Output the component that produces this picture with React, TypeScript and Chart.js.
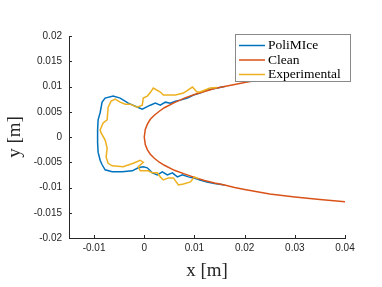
import React, { useEffect, useRef } from 'react';
import { Chart, registerables } from 'chart.js';

Chart.register(...registerables);

// ---- Data ----
const seriesNames = ['PoliMIce', 'Clean', 'Experimental'];
const seriesColors = ['#0072BD', '#D95319', '#EDB120'];

const xTicks = [-0.01, 0, 0.01, 0.02, 0.03, 0.04];
const yTicks = [-0.02, -0.015, -0.01, -0.005, 0, 0.005, 0.01, 0.015, 0.02];

const polimiceX = [0.016, 0.014, 0.0125, 0.0111, 0.0098, 0.0086, 0.0072, 0.0062, 0.0052, 0.0042, 0.0032, 0.0022, 0.0012, 0.0004, -0.0004, -0.0018, -0.0032, -0.0048, -0.0062, -0.0078, -0.0084, -0.0088, -0.0092, -0.0093, -0.0093, -0.0092, -0.0088, -0.0084, -0.0078, -0.0064, -0.0044, -0.0024, -0.0012, -0.0002, 0.0006, 0.0016, 0.0026, 0.0036, 0.0046, 0.0056, 0.0066, 0.0076, 0.0088, 0.0098, 0.0111, 0.0125, 0.014, 0.016];
const polimiceY = [0.0100, 0.0096, 0.0093, 0.0087, 0.0083, 0.0077, 0.0073, 0.0071, 0.0067, 0.0069, 0.0063, 0.0067, 0.0063, 0.0059, 0.0055, 0.0061, 0.0067, 0.0077, 0.0081, 0.0077, 0.0069, 0.0048, 0.0034, 0.0014, -0.0012, -0.0030, -0.0046, -0.0055, -0.0065, -0.0069, -0.0069, -0.0067, -0.0061, -0.0059, -0.0061, -0.0071, -0.0075, -0.0069, -0.0075, -0.0071, -0.0079, -0.0075, -0.0079, -0.0081, -0.0085, -0.0089, -0.0092, -0.0095];

const cleanX = [0.040, 0.035, 0.030, 0.025, 0.020, 0.018, 0.016, 0.014, 0.012, 0.010, 0.008, 0.006, 0.004, 0.003, 0.002, 0.0012, 0.0006, 0.0002, 0, 0.0002, 0.0006, 0.0012, 0.002, 0.003, 0.004, 0.006, 0.008, 0.010, 0.012, 0.014, 0.016, 0.018, 0.020, 0.025, 0.030, 0.035, 0.040];
const cleanY = [0.0137, 0.0131, 0.0125, 0.0117, 0.0108, 0.0104, 0.0100, 0.0096, 0.0090, 0.0084, 0.0077, 0.0068, 0.0058, 0.0051, 0.0043, 0.0035, 0.0025, 0.0015, 0, -0.0015, -0.0025, -0.0034, -0.0042, -0.0050, -0.0056, -0.0066, -0.0073, -0.0080, -0.0086, -0.0091, -0.0095, -0.0100, -0.0104, -0.0113, -0.0119, -0.0124, -0.0128];

const expX = [0.0145, 0.0131, 0.0121, 0.0111, 0.0105, 0.0096, 0.0078, 0.0062, 0.0048, 0.0038, 0.0032, 0.0018, 0.0012, 0.0006, -0.0002, -0.0004, -0.0014, -0.0028, -0.0038, -0.0048, -0.0058, -0.0066, -0.0072, -0.0074, -0.0082, -0.0088, -0.0086, -0.0078, -0.0074, -0.0076, -0.0072, -0.0064, -0.0042, -0.0022, -0.0008, -0.0002, -0.0012, -0.0008, 0.0008, 0.0016, 0.0026, 0.0032, 0.0038, 0.0048, 0.0058, 0.0068, 0.0078, 0.0092, 0.0100, 0.0108];
const expY = [0.0098, 0.0097, 0.0093, 0.0089, 0.0089, 0.0099, 0.0087, 0.0083, 0.0083, 0.0083, 0.0089, 0.0097, 0.0088, 0.0081, 0.0077, 0.0063, 0.0059, 0.0065, 0.0065, 0.0069, 0.0075, 0.0071, 0.0059, 0.0034, 0.0028, 0.0014, 0.0008, -0.0006, -0.0022, -0.0040, -0.0052, -0.0057, -0.0059, -0.0052, -0.0046, -0.0050, -0.0059, -0.0067, -0.0067, -0.0071, -0.0071, -0.0079, -0.0085, -0.0081, -0.0081, -0.0095, -0.0093, -0.0089, -0.0079, -0.0083];

const toPoints = (xs: number[], ys: number[]) => xs.map((x, i) => ({ x, y: ys[i] }));

const AXIS_COLOR = '#262626';

const inwardTicks = {
  id: 'inwardTicks',
  afterDraw(chart: any) {
    const { ctx, chartArea, scales } = chart;
    ctx.save();
    ctx.strokeStyle = AXIS_COLOR;
    ctx.lineWidth = 1;
    ctx.beginPath();
    scales.x.ticks.forEach((t: any) => {
      const px = Math.round(scales.x.getPixelForValue(t.value)) + 0.5;
      ctx.moveTo(px, chartArea.bottom);
      ctx.lineTo(px, chartArea.bottom - 3);
    });
    scales.y.ticks.forEach((t: any) => {
      const py = Math.round(scales.y.getPixelForValue(t.value)) + 0.5;
      ctx.moveTo(chartArea.left, py);
      ctx.lineTo(chartArea.left + 3, py);
    });
    ctx.stroke();
    ctx.restore();
  },
};

const boxLegend = {
  id: 'boxLegend',
  afterDatasetsDraw(chart: any) {
    const { ctx } = chart;
    const left = 235.5, top = 34.5, w = 115, h = 47;
    ctx.save();
    ctx.fillStyle = '#ffffff';
    ctx.fillRect(left, top, w, h);
    ctx.strokeStyle = '#8a8a8a';
    ctx.lineWidth = 1;
    ctx.strokeRect(left, top, w, h);
    ctx.font = '13.5px "Liberation Serif"';
    ctx.textBaseline = 'middle';
    ctx.fillStyle = '#000000';
    chart.data.datasets.forEach((ds: any, i: number) => {
      const y = 45.5 + i * 14.5;
      ctx.strokeStyle = ds.borderColor;
      ctx.lineWidth = 1.5;
      ctx.beginPath();
      ctx.moveTo(239, y);
      ctx.lineTo(265, y);
      ctx.stroke();
      ctx.fillText(ds.label, 268, y);
    });
    ctx.restore();
  },
};

export default function App() {
  const canvasRef = useRef<HTMLCanvasElement | null>(null);

  useEffect(() => {
    if (!canvasRef.current) return;
    const datasets = [
      toPoints(polimiceX, polimiceY),
      toPoints(cleanX, cleanY),
      toPoints(expX, expY),
    ].map((data, i) => ({
      label: seriesNames[i],
      data,
      showLine: true,
      borderColor: seriesColors[i],
      backgroundColor: seriesColors[i],
      borderWidth: 1.5,
      pointRadius: 0,
      tension: 0,
      fill: false,
      order: 3 - i,
    }));

    const chart = new Chart(canvasRef.current, {
      type: 'scatter',
      data: { datasets },
      options: {
        animation: false,
        responsive: false,
        layout: { padding: { top: 36, right: 37, left: 0, bottom: 0 } },
        plugins: { legend: { display: false }, tooltip: { enabled: false } },
        scales: {
          x: {
            type: 'linear',
            min: -0.015,
            max: 0.04,
            afterBuildTicks: (s: any) => {
              s.ticks = xTicks.map((v) => ({ value: v }));
            },
            afterFit: (s: any) => {
              s.height = 49;
            },
            grid: { display: false, drawTicks: false },
            border: { display: true, color: AXIS_COLOR, width: 1 },
            ticks: {
              padding: 4,
              maxRotation: 0,
              autoSkip: false,
              color: AXIS_COLOR,
              font: { family: '"Liberation Sans"', size: 10 },
              callback: (v: any) => String(v),
            },
            title: {
              display: true,
              text: 'x [m]',
              color: AXIS_COLOR,
              font: { family: '"Liberation Serif"', size: 19 },
              padding: { top: 0, bottom: 5 },
            },
          },
          y: {
            type: 'linear',
            min: -0.02,
            max: 0.02,
            afterBuildTicks: (s: any) => {
              s.ticks = yTicks.map((v) => ({ value: v }));
            },
            afterFit: (s: any) => {
              s.width = 69;
            },
            grid: { display: false, drawTicks: false },
            border: { display: true, color: AXIS_COLOR, width: 1 },
            ticks: {
              padding: 7,
              autoSkip: false,
              color: AXIS_COLOR,
              font: { family: '"Liberation Sans"', size: 10 },
              callback: (v: any) => String(v),
            },
            title: {
              display: true,
              text: 'y [m]',
              color: AXIS_COLOR,
              font: { family: '"Liberation Serif"', size: 19 },
              padding: { top: 4, bottom: 0 },
            },
          },
        },
      },
      plugins: [inwardTicks, boxLegend],
    } as any);

    return () => chart.destroy();
  }, []);

  return (
    <div style={{ position: 'absolute', left: 0, top: 0, width: 382, height: 287, background: '#fff' }}>
      <canvas ref={canvasRef} width={382} height={287} />
    </div>
  );
}
